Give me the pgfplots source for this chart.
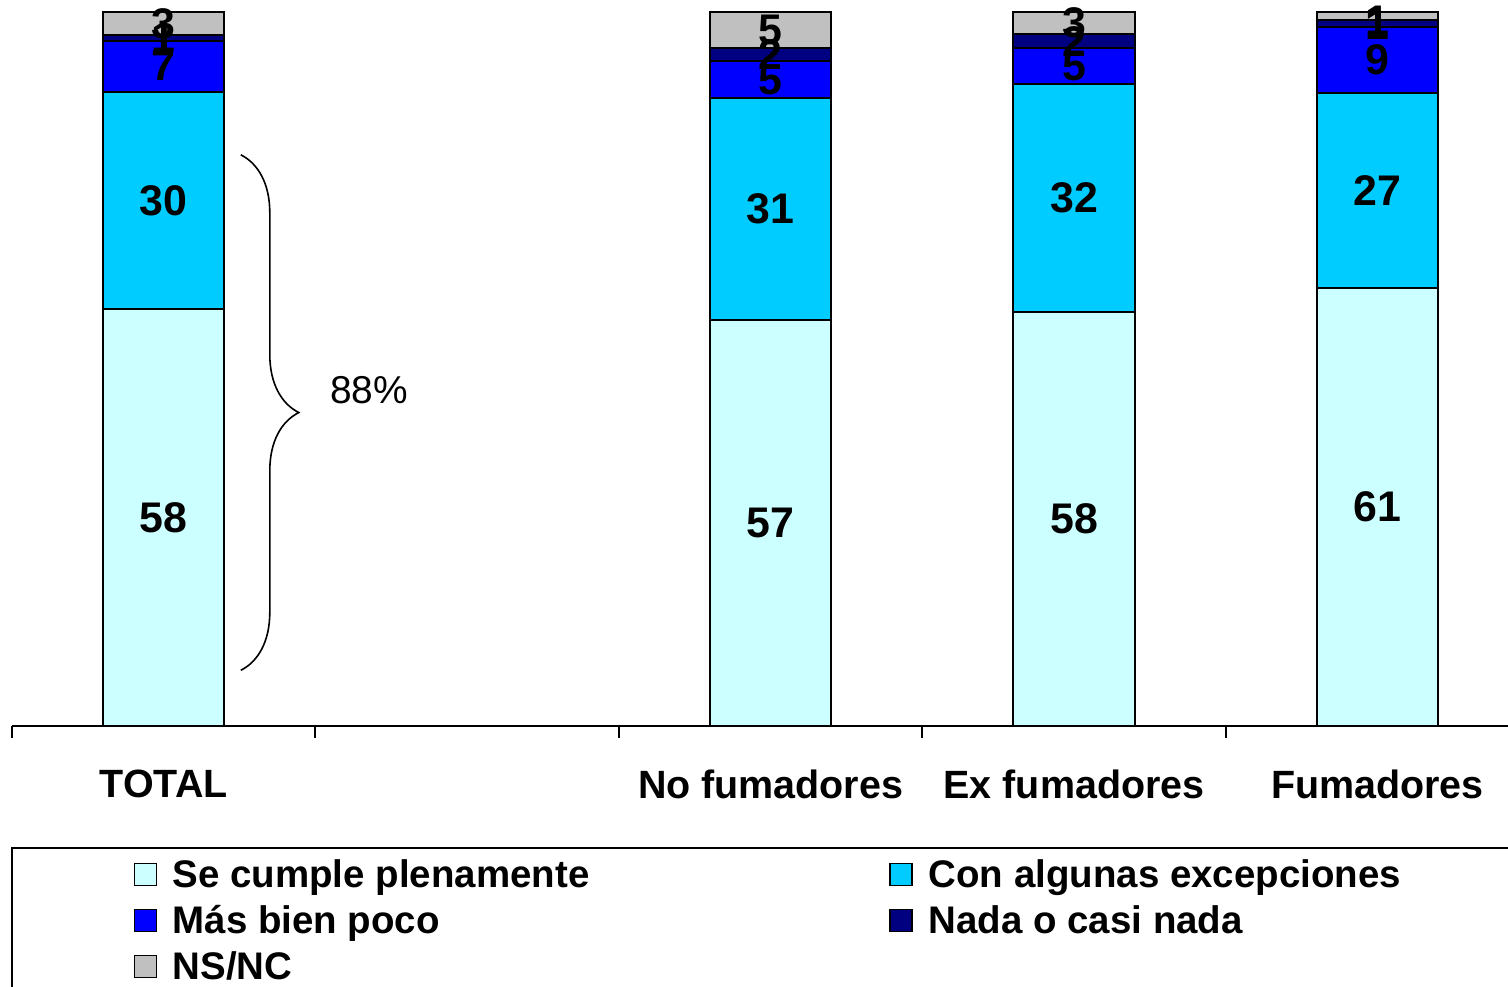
\documentclass[border=0pt]{standalone}
\usepackage{fontspec}
\setmainfont{Liberation Sans}
\usepackage{pgfplots}
\usepackage{pgfplotstable}
\pgfplotsset{compat=1.18}
\usetikzlibrary{decorations.pathreplacing}

\definecolor{cplena}{RGB}{204,255,255}
\definecolor{cexcep}{RGB}{0,204,255}
\definecolor{cpoco}{RGB}{0,0,255}
\definecolor{cnada}{RGB}{0,0,128}
\definecolor{cnsnc}{RGB}{192,192,192}

% x: 0 TOTAL, 1 (hueco), 2 No fumadores, 3 Ex fumadores, 4 Fumadores
% porcentajes sin redondear (cada barra suma 100)
\pgfplotstableread{
x plena excep poco nada nsnc
0 58.4 30.4 7.2 0.8 3.2
2 56.9 31.0 5.2 1.9 5.0
3 58.0 31.9 5.0 2.0 3.1
4 61.4 27.3 9.2 1.0 1.1
}\datos

% centro de cada tramo, para poner el numero redondeado
\pgfplotstableread{
x y lab
0 29.2 58
0 73.6 30
0 92.4 7
0 96.4 1
0 98.4 3
2 28.45 57
2 72.4 31
2 90.5 5
2 94.05 2
2 97.5 5
3 29 58
3 73.95 32
3 92.4 5
3 95.9 2
3 98.45 3
4 30.7 61
4 75.05 27
4 93.3 9
4 98.2 1
4 98.8 1
}\etiquetas

\begin{document}
\begin{tikzpicture}
\clip (0,0) rectangle (754bp,493.5bp);
\pgfplotsset{
  base/.style={
    at={(6bp,130.5bp)}, anchor=south west,
    scale only axis, width=748bp, height=357bp,
    xmin=-0.5, xmax=4.43, ymin=0, ymax=100,
    clip=false,
  },
}
\begin{axis}[
  base,
  ybar stacked, bar width=0.4,
  axis x line*=bottom, axis y line=none,
  x axis line style={-, line width=1bp},
  xtick={0,2,3,4},
  xticklabels={TOTAL, No fumadores, Ex fumadores, Fumadores},
  major tick length=0pt,
  minor xtick={-0.5,0.5,1.5,2.5,3.5},
  minor tick length=6bp,
  tick align=outside,
  minor tick style={line width=1bp, black},
  xticklabel style={font=\bfseries\fontsize{19.8}{20}\selectfont, yshift=-18.5bp},
  every axis plot/.append style={draw=black, line width=1bp},
  legend style={
    at={(0.077,-0.175)}, anchor=north west, draw=none, fill=none,
    font=\bfseries\fontsize{19.3}{20}\selectfont,
    legend columns=2, row sep=3.5bp,
    /tikz/every odd column/.append style={column sep=6bp},
    /tikz/every even column/.append style={column sep=148bp},
    cells={anchor=west},
  },
  legend image code/.code={
    \draw[#1, draw=black, line width=0.6bp] (0bp,-5.5bp) rectangle (11bp,5.5bp);
  },
]
\addplot[fill=cplena] table[x=x, y=plena] {\datos};
\addlegendentry{Se cumple plenamente}
\addplot[fill=cexcep] table[x=x, y=excep] {\datos};
\addlegendentry{Con algunas excepciones}
\addplot[fill=cpoco] table[x=x, y=poco] {\datos};
\addlegendentry{Más bien poco}
\addplot[fill=cnada] table[x=x, y=nada] {\datos};
\addlegendentry{Nada o casi nada}
\addplot[fill=cnsnc] table[x=x, y=nsnc] {\datos};
\addlegendentry{NS/NC}

% llave del 88%
\draw[decorate, decoration={brace, amplitude=29bp}, line width=0.8bp]
  (axis cs:0.254,80.0) -- (axis cs:0.254,7.8);
\node[font=\fontsize{19.5}{20}\selectfont] at (axis cs:0.677,47.1) {88\%};
\end{axis}

\begin{axis}[base, hide axis]
\addplot[only marks, mark=none, point meta=explicit symbolic,
  nodes near coords,
  every node near coord/.style={anchor=center, inner sep=0pt,
    font=\bfseries\fontsize{21.5}{22}\selectfont}]
  table[x=x, y=y, meta=lab] {\etiquetas};
\end{axis}

% marco de la leyenda
\draw[line width=1bp] (6bp,69.5bp) rectangle (800bp,-20bp);
\end{tikzpicture}
\end{document}
